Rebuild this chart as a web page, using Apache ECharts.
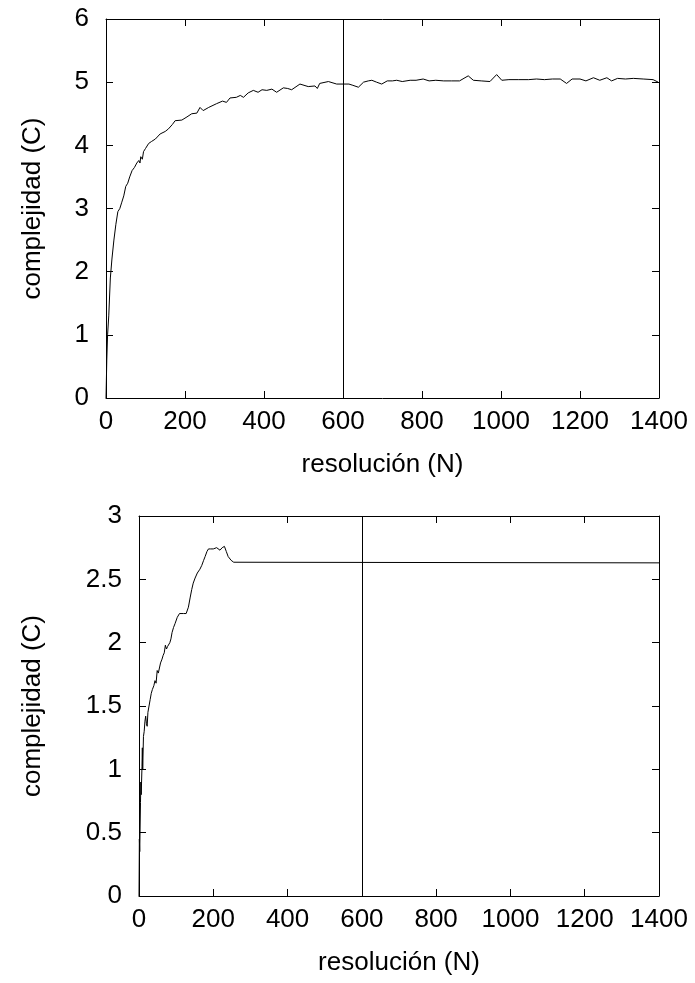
<!DOCTYPE html>
<html><head><meta charset="utf-8">
<script src="https://cdn.jsdelivr.net/npm/echarts@6/dist/echarts.min.js"></script>
<style>html,body{margin:0;padding:0;background:#fff}#c{width:695px;height:983px}</style>
</head><body><div id="c"></div>
<script>
// Top panel: complexity vs resolution
const topN = [0,2,4,7,11,15,20,25,30,35,40,45,50,55,60,66,72,78,83,86,88,92,95,100,108,115,125,137,150,158,168,175,192,205,217,230,238,246,260,280,295,305,314,330,340,348,360,373,385,395,407,420,432,449,460,470,491,512,529,535,541,563,584,600,615,625,639,652,664,673,685,698,712,725,736,750,770,785,803,818,835,855,875,895,917,930,950,972,989,1002,1020,1045,1070,1090,1110,1130,1150,1166,1180,1200,1215,1234,1250,1268,1280,1295,1315,1335,1360,1385,1398];
const topC = [0,0.6,1.0,1.3,1.9,2.2,2.5,2.75,2.95,3.0,3.1,3.2,3.35,3.4,3.5,3.6,3.65,3.72,3.76,3.72,3.82,3.78,3.9,3.95,4.03,4.06,4.1,4.18,4.22,4.26,4.33,4.39,4.4,4.45,4.5,4.51,4.6,4.55,4.6,4.66,4.7,4.68,4.75,4.76,4.79,4.76,4.83,4.87,4.84,4.88,4.87,4.89,4.84,4.91,4.9,4.88,4.97,4.93,4.94,4.9,4.98,5.01,4.97,4.97,4.97,4.95,4.92,5.0,5.02,5.03,5.0,4.97,5.02,5.02,5.03,5.01,5.03,5.03,5.05,5.02,5.03,5.02,5.02,5.02,5.10,5.03,5.02,5.01,5.12,5.03,5.04,5.04,5.04,5.05,5.04,5.05,5.05,4.98,5.05,5.05,5.02,5.07,5.03,5.07,5.02,5.06,5.05,5.06,5.05,5.04,5.0];
// Bottom panel
const botN = [0,1,2,4,5,6,8,9,10,12,14,16,18,20,22,24,27,30,33,36,40,43,46,49,52,55,58,62,65,68,71,74,77,80,83,86,89,93,97,103,109,120,127,133,138,142,146,151,157,164,169,174,178,183,187,193,200,205,209,214,218,224,230,235,240,248,255,260,1400];
const botC = [0,0.45,0.35,0.74,0.9,0.8,1.02,1.17,1.0,1.26,1.3,1.38,1.42,1.36,1.34,1.45,1.5,1.55,1.6,1.63,1.66,1.7,1.68,1.78,1.76,1.8,1.84,1.87,1.9,1.92,1.98,1.95,1.97,1.96,2.0,2.03,2.08,2.12,2.15,2.2,2.23,2.23,2.23,2.28,2.36,2.42,2.47,2.51,2.55,2.58,2.61,2.65,2.68,2.72,2.74,2.74,2.74,2.75,2.75,2.74,2.73,2.75,2.76,2.72,2.68,2.65,2.635,2.63,2.63];
const markN = 600;
const xLabel = 'resolución (N)';
const yLabel = 'complejidad (C)';

const FONT = 'Liberation Sans';
const FS = 26;
const zip = (a,b) => a.map((v,i)=>[v,b[i]]);
const plain = v => String(v);

function xAx(grid, show) {
  return {
    type:'value', gridIndex:grid, min:0, max:1400, interval:200,
    position: show ? 'bottom' : 'top',
    name: show ? xLabel : '', nameLocation:'middle', nameGap:54,
    nameTextStyle:{fontFamily:FONT, fontSize:FS, color:'#000'},
    axisLine:{show:true, onZero:false, lineStyle:{color:'#000', width:1}},
    axisTick:{show:true, inside:true, length:7, lineStyle:{color:'#000'}},
    axisLabel:{show:show, fontFamily:FONT, fontSize:FS, color:'#000', margin:11, formatter:plain},
    splitLine:{show:false}
  };
}
function yAx(grid, show, max, interval, gap) {
  return {
    type:'value', gridIndex:grid, min:0, max:max, interval:interval,
    position: show ? 'left' : 'right',
    name: show ? yLabel : '', nameLocation:'middle', nameGap:gap, nameRotate:90,
    nameTextStyle:{fontFamily:FONT, fontSize:FS, color:'#000'},
    axisLine:{show:true, onZero:false, lineStyle:{color:'#000', width:1}},
    axisTick:{show:true, inside:true, length:7, lineStyle:{color:'#000'}},
    axisLabel:{show:show, fontFamily:FONT, fontSize:FS, color:'#000', margin:17, formatter:plain},
    splitLine:{show:false}
  };
}
const ml = {
  silent:true, symbol:'none', label:{show:false},
  lineStyle:{color:'#000', width:1, type:'solid'},
  data:[{xAxis:markN}]
};
const chart = echarts.init(document.getElementById('c'), null, {renderer:'canvas'});
chart.setOption({
  animation:false,
  backgroundColor:'#fff',
  grid:[
    {left:106, top:19, width:553, height:379},
    {left:139, top:516, width:520, height:380}
  ],
  xAxis:[xAx(0,true), xAx(0,false), xAx(1,true), xAx(1,false)],
  yAxis:[yAx(0,true,6,1,60), yAx(0,false,6,1,0), yAx(1,true,3,0.5,93), yAx(1,false,3,0.5,0)],
  series:[
    {type:'line', xAxisIndex:0, yAxisIndex:0, data:zip(topN,topC), showSymbol:false, symbol:'none',
     lineStyle:{color:'#000', width:1}, markLine:ml},
    {type:'line', xAxisIndex:2, yAxisIndex:2, data:zip(botN,botC), showSymbol:false, symbol:'none',
     lineStyle:{color:'#000', width:1}, markLine:ml}
  ]
});
</script></body></html>
